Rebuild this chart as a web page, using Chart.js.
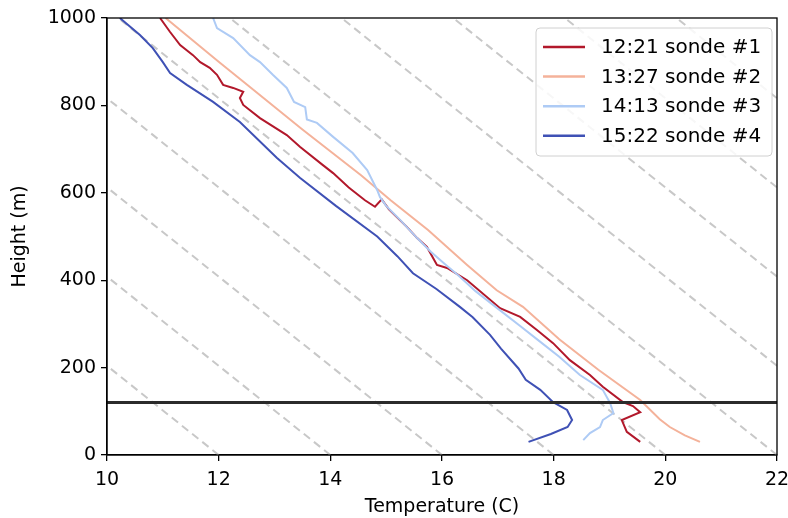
<!DOCTYPE html>
<html>
<head>
<meta charset="utf-8">
<script src="https://cdn.jsdelivr.net/npm/chart.js@4.4.1/dist/chart.umd.min.js"></script>
<style>
  html, body { margin: 0; padding: 0; background: #fff; }
  #wrap { width: 788px; height: 518px; }
</style>
</head>
<body>
<div id="wrap"><canvas id="sondeChart" width="788" height="518"></canvas></div>
<script>
// Sonde profiles (temperature in C, height in m)
const sonde1Temp = [19.55, 19.31, 19.22, 19.55, 19.42, 19.24, 18.88, 18.65, 18.29, 17.99, 17.7, 17.4, 17.04, 16.45, 16.09, 15.91, 15.73, 15.55, 15.37, 15.05, 14.92, 14.8, 14.62, 14.33, 14.05, 13.85, 13.46, 13.22, 12.74, 12.44, 12.38, 12.44, 12.26, 12.08, 11.97, 11.84, 11.67, 11.54, 11.31, 11.13, 10.95];
const sonde1Height = [30, 53, 80, 98, 112, 121, 156, 183, 217, 256, 286, 316, 336, 400, 428, 435, 476, 497, 522, 562, 585, 568, 583, 612, 645, 665, 705, 732, 771, 801, 817, 831, 840, 847, 870, 886, 899, 915, 938, 968, 1000];

const sonde2Temp = [20.62, 20.35, 20.08, 19.9, 19.55, 18.8, 18.1, 17.45, 16.98, 16.45, 15.75, 15.08, 14.55, 13.5, 12.56, 12.0, 11.05];
const sonde2Height = [30, 45, 64, 82, 126, 195, 265, 339, 377, 435, 515, 583, 640, 745, 842, 900, 1000];

const sonde3Temp = [18.53, 18.65, 18.83, 18.88, 19.07, 19.01, 18.88, 18.47, 18.1, 17.75, 17.4, 17.0, 16.6, 16.3, 16.05, 15.8, 15.55, 15.25, 15.0, 14.89, 14.84, 14.66, 14.4, 14.05, 13.76, 13.58, 13.55, 13.35, 13.22, 12.97, 12.74, 12.56, 12.26, 11.97, 11.9];
const sonde3Height = [34, 50, 64, 80, 96, 119, 149, 183, 225, 260, 295, 335, 375, 410, 437, 465, 497, 538, 570, 590, 606, 652, 691, 728, 760, 768, 796, 808, 840, 870, 899, 915, 954, 977, 1000];

const sonde4Temp = [17.55, 17.95, 18.25, 18.33, 18.24, 17.99, 17.76, 17.5, 17.37, 17.06, 16.86, 16.55, 16.32, 15.9, 15.48, 15.2, 14.84, 14.1, 13.46, 13.04, 12.38, 11.9, 11.43, 11.13, 11.0, 10.82, 10.59, 10.23];
const sonde4Height = [30, 48, 64, 80, 103, 121, 149, 172, 198, 243, 275, 315, 339, 380, 416, 455, 500, 570, 634, 680, 762, 808, 847, 874, 899, 931, 961, 1000];

const sondeLabels = ["12:21 sonde #1", "13:27 sonde #2", "14:13 sonde #3", "15:22 sonde #4"];
const sondeColors = ["#b2182b", "#f4b29a", "#aecbf5", "#3f51b5"];

// dry adiabats: surface temperature of each dashed line, lapse rate in C per m
const adiabatSurfaceTemp = [12, 14, 16, 18, 20, 22, 24, 26, 28, 30, 32];
const dryLapse = 0.0098;
const adiabatHeights = [0, 1000];

// boundary layer top (m)
const boundaryHeight = 120;

const xTicks = [10, 12, 14, 16, 18, 20, 22];
const yTicks = [0, 200, 400, 600, 800, 1000];

const FONT = "DejaVu Sans";
const FONT_SIZE = 19;
const toPoints = (xs, ys) => xs.map((x, i) => ({ x: x, y: ys[i] }));

const sondeSets = [
  toPoints(sonde1Temp, sonde1Height),
  toPoints(sonde2Temp, sonde2Height),
  toPoints(sonde3Temp, sonde3Height),
  toPoints(sonde4Temp, sonde4Height),
];

const datasets = [];
adiabatSurfaceTemp.forEach((t0) => {
  datasets.push({
    label: "adiabat",
    data: adiabatHeights.map((z) => ({ x: t0 - dryLapse * z, y: z })),
    borderColor: "#c8c8c8",
    borderWidth: 2,
    borderDash: [8, 5],
    showLine: true,
    pointRadius: 0,
    clip: 0,
    order: 10,
  });
});
sondeSets.forEach((pts, i) => {
  datasets.push({
    label: sondeLabels[i],
    data: pts,
    borderColor: sondeColors[i],
    borderWidth: 2,
    showLine: true,
    pointRadius: 0,
    clip: 0,
    order: 5 - i,
  });
});
datasets.push({
  label: "boundary",
  data: [{ x: xTicks[0], y: boundaryHeight }, { x: xTicks[xTicks.length - 1], y: boundaryHeight }],
  borderColor: "#2b2b2b",
  borderWidth: 3,
  showLine: true,
  pointRadius: 0,
  clip: 0,
  order: 0,
});

// frame round the plot plus the legend box inside it
const framePlugin = {
  id: "frame",
  afterDraw(chart) {
    const { ctx, chartArea: a } = chart;
    ctx.save();
    ctx.strokeStyle = "#000";
    ctx.lineWidth = 1.3;
    ctx.strokeRect(a.left, a.top, a.right - a.left, a.bottom - a.top);

    // legend
    const bx = a.right - 241, by = a.top + 10, bw = 236, bh = 128;
    ctx.fillStyle = "rgba(255,255,255,0.85)";
    ctx.strokeStyle = "#d0d0d0";
    ctx.lineWidth = 1;
    ctx.beginPath();
    ctx.roundRect(bx, by, bw, bh, 4);
    ctx.fill();
    ctx.stroke();
    ctx.font = "20px '" + FONT + "'";
    ctx.textBaseline = "middle";
    ctx.fillStyle = "#000";
    sondeLabels.forEach((lab, i) => {
      const yy = by + 19 + i * 29.6;
      ctx.strokeStyle = sondeColors[i];
      ctx.lineWidth = 2.5;
      ctx.beginPath();
      ctx.moveTo(bx + 7, yy);
      ctx.lineTo(bx + 49, yy);
      ctx.stroke();
      ctx.fillText(lab, bx + 65, yy + 1);
    });
    ctx.restore();
  },
};

const ctx = document.getElementById("sondeChart").getContext("2d");
new Chart(ctx, {
  type: "scatter",
  data: { datasets: datasets },
  options: {
    responsive: false,
    animation: false,
    layout: { padding: { top: 18, right: 11, left: 0, bottom: 0 } },
    plugins: { legend: { display: false }, tooltip: { enabled: false } },
    scales: {
      x: {
        type: "linear",
        min: 10,
        max: 22,
        afterBuildTicks: (s) => { s.ticks = xTicks.map((v) => ({ value: v })); },
        afterFit: (s) => { s.height = 63; s.paddingLeft = 0; s.paddingRight = 0; },
        grid: { drawOnChartArea: false, drawTicks: true, tickLength: 6, color: "#000", lineWidth: 1.3 },
        border: { display: true, color: "#000", width: 1.3 },
        ticks: { color: "#000", padding: 8, font: { family: FONT, size: FONT_SIZE }, maxRotation: 0 },
        title: { display: true, text: "Temperature (C)", color: "#000", font: { family: FONT, size: FONT_SIZE }, padding: { top: 0, bottom: 0 } },
      },
      y: {
        type: "linear",
        min: 0,
        max: 1000,
        afterBuildTicks: (s) => { s.ticks = yTicks.map((v) => ({ value: v })); },
        afterFit: (s) => { s.width = 107; s.paddingTop = 0; s.paddingBottom = 0; },
        grid: { drawOnChartArea: false, drawTicks: true, tickLength: 6, color: "#000", lineWidth: 1.3 },
        border: { display: true, color: "#000", width: 1.3 },
        ticks: { color: "#000", padding: 5, font: { family: FONT, size: FONT_SIZE }, callback: (v) => String(v) },
        title: { display: true, text: "Height (m)", color: "#000", font: { family: FONT, size: FONT_SIZE }, padding: { top: 9, bottom: 0 } },
      },
    },
  },
  plugins: [framePlugin],
});
</script>
</body>
</html>
